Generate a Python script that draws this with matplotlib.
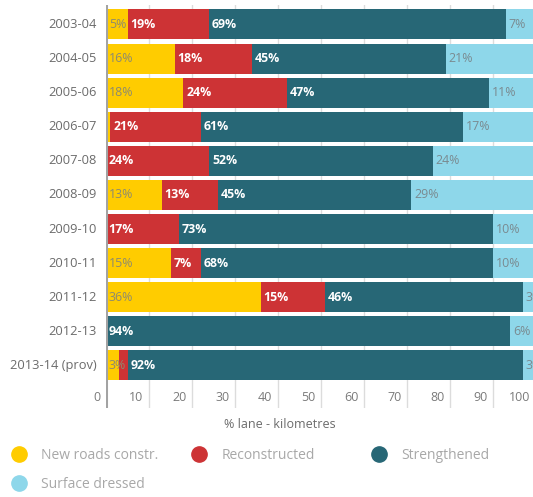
import matplotlib
matplotlib.use("Agg")
import matplotlib.pyplot as plt
from matplotlib.lines import Line2D

plt.rcParams['font.family'] = ['Open Sans', 'DejaVu Sans']

# Share of lane-kilometres treated each year, by treatment type (%)
years = ['2003-04', '2004-05', '2005-06', '2006-07', '2007-08', '2008-09',
         '2009-10', '2010-11', '2011-12', '2012-13', '2013-14 (prov)']
new_roads = [5, 16, 18, 1, 0, 13, 0, 15, 36, 0, 3]
reconstructed = [19, 18, 24, 21, 24, 13, 17, 7, 15, 0, 2]
strengthened = [69, 45, 47, 61, 52, 45, 73, 68, 46, 94, 92]
surface_dressed = [7, 21, 11, 17, 24, 29, 10, 10, 3, 6, 3]

series_names = ['New roads constr.', 'Reconstructed', 'Strengthened', 'Surface dressed']
series_values = [new_roads, reconstructed, strengthened, surface_dressed]
colors = ['#ffcc00', '#cd3335', '#276776', '#8ed7ea']
label_colors = ['#8c8a70', 'white', 'white', '#7a8a90']
label_weights = ['normal', 'bold', 'bold', 'normal']

fig = plt.figure(figsize=(5.33, 4.97), dpi=100)
W, H = 533, 497
# axis runs from 0 at x=106px to 100 at x=536px (right edge sits just past the canvas)
ax = fig.add_axes([106 / W, 1 - 408 / H, 430 / W, 403 / H])

rows = list(range(len(years)))
ax.set_xlim(0, 100)
ax.set_ylim(11.25, -0.572)

ticks = list(range(0, 101, 10))
for t in ticks[1:]:
    ax.axvline(t, color='#dcdcdc', lw=1, zorder=0)
ax.axvline(0, color='#a3a3a3', lw=2.2, zorder=3)

left = [0] * len(years)
for name, vals, c, lc, lw in zip(series_names, series_values, colors, label_colors, label_weights):
    ax.barh(rows, vals, left=left, height=0.88, color=c, edgecolor='none', zorder=2)
    for r, v, l0 in zip(rows, vals, left):
        if v >= 3:
            ax.annotate(f'{v}%', xy=(l0, r), xytext=(2, 0), textcoords='offset points',
                        ha='left', va='center', fontsize=8.9, color=lc, fontweight=lw,
                        zorder=4)
    left = [a + b for a, b in zip(left, vals)]

# category labels
for r, y in zip(rows, years):
    ax.annotate(y, xy=(0, r), xytext=(-7, 0), textcoords='offset points',
                ha='right', va='center', fontsize=9.3, color='#6b6b6b',
                annotation_clip=False)

# value labels sit just left of each gridline
for t in ticks:
    ax.annotate(str(t), xy=(t, 10.95), xytext=(-4, 0), textcoords='offset points',
                ha='right', va='center', fontsize=9, color='#7a7a7a',
                annotation_clip=False)

ax.set_xticks([])
ax.set_yticks([])
for s in ax.spines.values():
    s.set_visible(False)

fig.text(280 / W, 1 - 425 / H, '% lane - kilometres', ha='center', va='center',
         fontsize=9, color='#6b6b6b')

# legend, one block per column
def handle(c):
    return Line2D([], [], marker='o', linestyle='none', markersize=11,
                  markerfacecolor=c, markeredgecolor=c)

legend_kw = dict(loc='upper left', frameon=False, fontsize=10, borderpad=0,
                 borderaxespad=0, handlelength=1.0, handletextpad=1.1,
                 labelspacing=1.0, labelcolor='#a8a8a8')
cols = [([0, 3], 12), ([1], 192), ([2], 372)]
for idx, x0 in cols:
    fig.legend([handle(colors[i]) for i in idx], [series_names[i] for i in idx],
               bbox_to_anchor=(x0 / W, 1 - 448 / H), **legend_kw)

fig.savefig('out.png', dpi=100)
